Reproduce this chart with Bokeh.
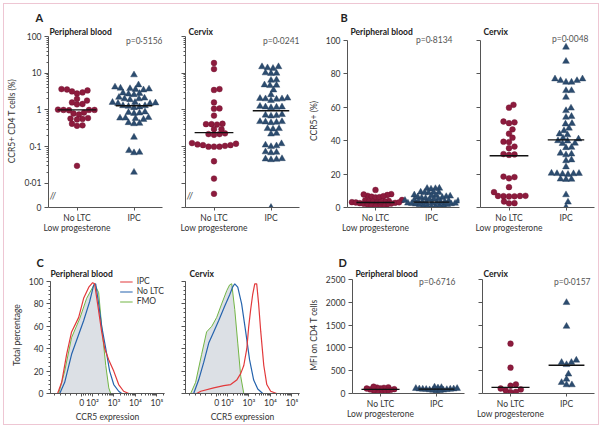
import numpy as np
from bokeh.plotting import figure
from bokeh.layouts import row, column
from bokeh.models import (FixedTicker, Label, Legend, LegendItem, Range1d, Title,
                          InlineStyleSheet)
from bokeh.embed import file_html
from bokeh.resources import INLINE

FONT = "Lato"
TXT = "#333333"
AXC = "#555555"
RED = "#8d1b3d"
BLUE = "#2c4c6f"
DARK = "#222222"
PGREY = "#555555"
FRAME_PINK = "#eec6d3"

GROUP_LABELS = ["No LTC\nLow progesterone", "IPC"]

# ---------------- Panel A (log scale, % CCR5+ CD4 T cells) ----------------
A_TICKS = [0.01, 0.1, 1, 10, 100]
A_TICK_LABELS = ["0·01", "0·1", "1", "10", "100"]
A_ZERO = 0.0022
A_PB_NOLTC = [3.7, 3.6, 3.4, 3.2, 3.0, 2.8, 2.0, 1.8, 1.6, 1.45, 1.42, 1.0, 1.0, 0.98,
              1.0, 1.02, 0.85, 0.8, 0.75, 0.6, 0.58, 0.57, 0.55, 0.42, 0.38, 0.37, 0.03]
A_PB_IPC = [9.0, 4.8, 4.2, 3.9, 3.7, 3.6, 3.5, 3.8, 2.8, 2.7, 2.6, 2.9, 2.1, 2.0, 1.9, 2.0,
            2.2, 1.6, 1.55, 1.5, 1.6, 1.5, 1.3, 1.25, 1.2, 1.15, 1.3, 0.85, 0.82, 0.8, 0.88,
            0.62, 0.6, 0.58, 0.6, 0.55, 0.45, 0.43, 0.42, 0.18, 0.068, 0.07, 0.078, 0.02]
A_CX_NOLTC = [19, 13, 3.7, 3.5, 1.6, 1.1, 1.08, 0.7, 0.42, 0.41, 0.41, 0.4, 0.3, 0.3, 0.23,
              0.22, 0.22, 0.21, 0.125, 0.12, 0.11, 0.105, 0.1, 0.1, 0.1, 0.11, 0.115, 0.04,
              0.0135, 0.0052]
A_CX_IPC = [14, 15, 15, 13.5, 10, 10.2, 9.8, 6.6, 6.4, 4.7, 4.6, 4.8, 3.5, 2.6, 2.0, 2.0, 2.1,
            1.95, 2.05, 1.8, 1.25, 1.2, 1.2, 1.18, 1.15, 0.72, 0.75, 0.7, 0.68, 0.48, 0.46,
            0.47, 0.45, 0.48, 0.31, 0.3, 0.31, 0.22, 0.23, 0.12, 0.105, 0.1, 0.11, 0.07, 0.068,
            0.072, 0.047, 0.045, 0.044, 0.046, 0]
A_PB_MEDIANS = [1.0, 1.3]
A_CX_MEDIANS = [0.24, 0.95]
A_P = ["p=0·5156", "p=0·0241"]

# ---------------- Panel B (% CCR5+) ----------------
B_TICKS = [0, 20, 40, 60, 80, 100]
B_PB_NOLTC = [10.5, 8.0, 7.5, 7.0, 6.5, 6.0, 6.2, 6.8, 7.8, 4.5, 4.3, 4.0, 3.8, 3.6, 3.4, 3.2,
              3.0, 2.9, 2.8, 2.6, 2.4, 2.2, 2.0, 1.8, 1.5, 1.2, 1.0, 0.6, 3.3, 3.1]
B_PB_IPC = [11.5, 11.4, 11.3, 11.0, 9.2, 9.0, 8.8, 9.1, 8.9, 7.5, 7.2, 7.0, 6.8, 6.5, 6.2, 6.0,
            5.8, 5.5, 5.2, 5.0, 4.8, 4.5, 4.2, 4.0, 3.8, 3.6, 3.4, 3.2, 3.0, 2.8, 2.6, 2.4,
            2.2, 2.0, 1.8, 1.6, 1.4, 1.2, 1.0, 0.8, 0.6, 0.4, 2.5, 3.1, 2.9]
B_CX_NOLTC = [61.5, 59.8, 51.5, 50.5, 51.0, 46.8, 44.2, 41.8, 39.4, 39.2, 36.5, 35.5, 32.0,
              31.8, 31.5, 18.5, 17.5, 18.2, 12.2, 6.9, 6.8, 6.6, 6.7, 6.9, 7.0, 9.2, 3.6, 2.6, 2.5]
B_CX_IPC = [96, 87.5, 77, 76, 75, 75, 76, 77, 70, 70, 66, 59.5, 58, 54, 54.5, 50, 50.3, 47.5, 46,
            44, 43.5, 41.5, 41, 40, 39.8, 38.5, 38.3, 36, 35.8, 32, 31.5, 32.5, 28, 28.5, 24.3,
            20.3, 20.5, 20, 19.8, 20.2, 20.4, 16.9, 16.8, 17, 7.6, 3.2, 0.2]
B_PB_MEDIANS = [3.0, 3.2]
B_CX_MEDIANS = [31, 40.5]
B_P = ["p=0·8134", "p=0·0048"]

# ---------------- Panel C (histograms, CCR5 expression) ----------------
C_X_TICKS = [0, 0.5, 1.5, 2.5, 3.5]
C_X_LABELS = ["0", "10²", "10³", "10⁴", "10⁵"]
C_Y_TICKS = [0, 20, 40, 60, 80, 100]
C_PB_FMO_X = [-1.45, -1.07, -0.79, -0.47, -0.09, 0.23, 0.6, 0.79, 0.93, 1.12, 1.26, 1.35, 3.85]
C_PB_FMO_Y = [0, 0, 20, 50, 67, 85, 98, 90, 60, 25, 5, 0, 0]
C_PB_IPC_X = [-1.45, -1.12, -0.93, -0.7, -0.47, -0.14, 0.09, 0.33, 0.51, 0.6, 0.74, 0.93, 1.07,
              1.26, 1.49, 1.72, 1.95, 2.19, 3.85]
C_PB_IPC_Y = [0, 0, 10, 35, 55, 68, 85, 95, 99, 98, 80, 55, 40, 30, 20, 8, 2, 0, 0]
C_PB_NOLTC_X = [-1.45, -1.02, -0.79, -0.47, -0.19, 0.09, 0.37, 0.56, 0.65, 0.79, 0.93, 1.12,
                1.3, 1.49, 1.72, 1.86, 3.85]
C_PB_NOLTC_Y = [0, 0, 10, 35, 50, 65, 82, 97, 98, 80, 60, 40, 20, 8, 2, 0, 0]
C_CX_FMO_X = [-1.45, -1.21, -0.98, -0.7, -0.47, -0.23, 0, 0.23, 0.47, 0.6, 0.7, 0.84, 0.98,
              1.12, 1.26, 3.85]
C_CX_FMO_Y = [0, 0, 10, 35, 55, 60, 68, 80, 92, 97, 98, 75, 45, 15, 0, 0]
C_CX_NOLTC_X = [-1.45, -1.07, -0.84, -0.6, -0.37, -0.14, 0.09, 0.37, 0.6, 0.74, 0.84, 0.98,
                1.16, 1.35, 1.53, 1.72, 1.91, 2.14, 3.85]
C_CX_NOLTC_Y = [0, 0, 12, 28, 45, 55, 65, 78, 88, 95, 98, 95, 80, 55, 30, 12, 4, 0, 0]
C_CX_IPC_X = [-1.45, -0.93, -0.74, -0.14, 0.33, 0.65, 0.93, 1.12, 1.26, 1.4, 1.49, 1.58, 1.67,
              1.77, 1.86, 1.95, 2.05, 2.19, 2.33, 2.51, 2.79, 3.85]
C_CX_IPC_Y = [0, 0, 2, 5, 7, 8, 12, 18, 25, 40, 60, 75, 88, 98, 98, 80, 55, 25, 8, 2, 0, 0]
C_LEGEND = ["IPC", "No LTC", "FMO"]
C_RED = "#e2393b"
C_BLUE = "#2563ad"
C_GREEN = "#72b545"
C_FILL = "#d8dde2"

# ---------------- Panel D (MFI on CD4 T cells) ----------------
D_TICKS = [0, 500, 1000, 1500, 2000, 2500]
D_PB_NOLTC = [135, 125, 110, 95, 80, 60, 35, 25, 45, 70, 90, 110, 130, 150]
D_PB_IPC = [100, 95, 110, 130, 90, 80, 120, 140, 75, 70, 95, 60, 85, 100, 110, 65]
D_CX_NOLTC = [1094, 567, 170, 90, 35, 30, 70, 110, 200]
D_CX_IPC = [1995, 1473, 680, 633, 680, 730, 425, 240, 190, 190, 313]
D_PB_MEDIANS = [90, 95]
D_CX_MEDIANS = [134, 620]
D_P = ["p=0·6716", "p=0·0157"]


def base_fig(w, h, xr, yr, bl, br, bt, bb, ytype="linear"):
    p = figure(width=w, height=h, x_range=Range1d(*xr), y_range=Range1d(*yr),
               y_axis_type=ytype, output_backend="svg", toolbar_location=None,
               min_border_left=bl, min_border_right=br, min_border_top=bt,
               min_border_bottom=bb)
    p.outline_line_color = None
    p.xgrid.visible = False
    p.ygrid.visible = False
    for ax in (p.xaxis[0], p.yaxis[0]):
        ax.axis_line_color = AXC
        ax.major_tick_line_color = AXC
        ax.minor_tick_line_color = AXC
        ax.major_tick_in = 0
        ax.major_tick_out = 4
        ax.minor_tick_in = 0
        ax.minor_tick_out = 2
        ax.major_label_text_font = FONT
        ax.major_label_text_font_size = "8.5px"
        ax.major_label_text_color = TXT
        ax.major_label_text_line_height = 1.0
        ax.axis_label_text_font = FONT
        ax.axis_label_text_font_size = "8.5px"
        ax.axis_label_text_font_style = "normal"
        ax.axis_label_text_color = TXT
        ax.major_label_standoff = 3
        ax.axis_label_standoff = 4
    return p


def titles(p, name, name_dx, letter=None, letter_dx=-13, letter_standoff=0):
    # outermost title: panel letter; inner title: sample name
    p.title.text = letter or ""
    p.title.align = "left"
    p.title.offset = letter_dx
    p.title.standoff = letter_standoff
    p.title.text_font = FONT
    p.title.text_font_size = "11px"
    p.title.text_font_style = "bold"
    p.title.text_color = DARK
    p.add_layout(Title(text=name, align="left", offset=name_dx, standoff=-4,
                       text_font=FONT, text_font_size="8.5px", text_font_style="bold",
                       text_color=DARK), "above")


def ptext(p, text, dx, dy):
    p.add_layout(Label(x=p.x_range.end, y=p.y_range.end, x_offset=dx, y_offset=-dy, text=text,
                       text_align="right", text_baseline="middle", text_font=FONT,
                       text_font_size="8.5px", text_color=PGREY))


def swarm(ypx, d, maxw):
    ypx = np.asarray(ypx, dtype=float)
    order = np.argsort(ypx)
    cands = [0.0]
    k = 1
    while k * 0.5 <= maxw:
        cands += [k * 0.5, -k * 0.5]
        k += 1
    placed = []
    offs = np.zeros(len(ypx))
    for i in order:
        y = ypx[i]
        near = [(px, py) for px, py in placed if abs(py - y) < d]
        best, bestd = None, -1
        for c in cands:
            md = min([np.hypot(c - px, y - py) for px, py in near], default=1e9)
            if md >= d:
                best = c
                break
            if md > bestd:
                bestd, best = md, c
        placed.append((best, y))
        offs[i] = best
    return offs


def cat_axis(p):
    p.xaxis.ticker = FixedTicker(ticks=[0, 1])
    p.xaxis.major_label_overrides = {0: GROUP_LABELS[0], 1: GROUP_LABELS[1]}
    p.xaxis.major_tick_out = 3
    p.xaxis.major_label_standoff = 2


def add_points(p, g0, g1, meds, to_px, d, maxw, pxu):
    y0 = [to_px(v) for v in g0]
    y1 = [to_px(v) for v in g1]
    x0 = swarm(y0, d, maxw) / pxu
    x1 = 1 + swarm(y1, d, maxw) / pxu
    p.scatter(x0, g0, marker="circle", size=5.8, fill_color=RED, line_color="#6e1230",
              line_width=0.4)
    p.scatter(x1, g1, marker="triangle", size=6.8, fill_color=BLUE, line_color="#233d5a",
              line_width=0.4)
    p.segment(x0=[-0.34, 1 - 0.32], x1=[0.34, 1 + 0.32], y0=meds, y1=meds,
              line_color="#111111", line_width=1.3)


PXU = 57.0
XR = (-0.5, 1.5)
ROW1_H, ROW2_H = 231, 189


# ---------- A ----------
def a_panel(w, bl, br, g0, g1, meds, pb):
    dec = 36.5          # pixels per decade
    ext = 2             # pixels of frame above the 100 tick
    top = 10 ** (2 + ext / dec)
    lo = np.log10(A_ZERO)
    def to_px(v):
        return (np.log10(max(v, A_ZERO)) - lo) * dec
    v0 = [max(v, A_ZERO) for v in g0]
    v1 = [max(v, A_ZERO) for v in g1]
    p = base_fig(w, ROW1_H, XR, (A_ZERO, top), bl, br, 30, 28, ytype="log")
    p.yaxis.bounds = (A_ZERO, 100)
    minors = [k * 10.0 ** e for e in range(-2, 2) for k in range(2, 10)]
    p.yaxis.ticker = FixedTicker(ticks=[A_ZERO] + A_TICKS, minor_ticks=minors)
    if pb:
        ov = {t: l for t, l in zip(A_TICKS, A_TICK_LABELS)}
        ov[A_ZERO] = "0"
        p.yaxis.axis_label = "CCR5+ CD4 T cells (%)"
    else:
        ov = {t: "" for t in [A_ZERO] + A_TICKS}
    p.yaxis.major_label_overrides = ov
    cat_axis(p)
    add_points(p, v0, v1, meds, to_px, 5.3, 28, PXU)
    p.add_layout(Label(x=-0.5, y=np.sqrt(0.01 * A_ZERO), text="//", text_align="left",
                       text_baseline="middle", text_font=FONT, text_font_size="10px",
                       text_color=AXC, x_offset=1))
    return p


a1 = a_panel(166, 44, 8, A_PB_NOLTC, A_PB_IPC, A_PB_MEDIANS, True)
titles(a1, "Peripheral blood", 1, "A", -13, 6)
ptext(a1, A_P[0], 0, 6)

a2 = a_panel(135, 15, 6, A_CX_NOLTC, A_CX_IPC, A_CX_MEDIANS, False)
titles(a2, "Cervix", 3, None, 0, 6)
ptext(a2, A_P[1], 0, 6)


# ---------- B ----------
def b_panel(w, bl, br, g0, g1, meds, pb, d, maxw):
    ppu = 1.66          # pixels per percent
    ext = 6
    p = base_fig(w, ROW1_H, XR, (0, 100 + ext / ppu), bl, br, 30, 28)
    p.yaxis.bounds = (0, 100)
    p.yaxis.ticker = FixedTicker(ticks=B_TICKS)
    if pb:
        p.yaxis.axis_label = "CCR5+ (%)"
    else:
        p.yaxis.major_label_overrides = {t: "" for t in B_TICKS}
    cat_axis(p)
    add_points(p, g0, g1, meds, lambda v: v * ppu, d, maxw, PXU)
    return p


b1 = b_panel(165, 40, 11, B_PB_NOLTC, B_PB_IPC, B_PB_MEDIANS, True, 4.0, 27)
titles(b1, "Peripheral blood", 3, "B", -7, 6)
ptext(b1, B_P[0], -7, 5)

b2 = b_panel(128, 10, 4, B_CX_NOLTC, B_CX_IPC, B_CX_MEDIANS, False, 5.3, 30)
titles(b2, "Cervix", 3, None, 0, 6)
ptext(b2, B_P[1], -6, 4.5)


# ---------- C ----------
def c_panel(w, bl, br, fx, fy, nx, ny, ix, iy, pb):
    p = base_fig(w, ROW2_H, (-1.45, 3.85), (0, 104.5), bl, br, 41, 31)
    p.yaxis.bounds = (0, 100)
    p.yaxis.ticker = FixedTicker(ticks=C_Y_TICKS, minor_ticks=list(range(0, 101, 4)))
    minors = [-1.25, -1.0, -0.75, -0.5, -0.25, 0.1, 0.2, 0.3, 0.4]
    minors += [0.5 + e + np.log10(k) for e in range(0, 4) for k in range(2, 10)]
    p.xaxis.ticker = FixedTicker(ticks=C_X_TICKS, minor_ticks=minors)
    p.xaxis.major_label_overrides = {t: l for t, l in zip(C_X_TICKS, C_X_LABELS)}
    p.xaxis.axis_label = "CCR5 expression"
    p.xaxis.major_tick_out = 3
    p.xaxis.axis_label_standoff = 1
    p.xaxis.major_label_standoff = 1
    if pb:
        p.yaxis.axis_label = "Total percentage"
    else:
        p.yaxis.major_label_overrides = {t: "" for t in C_Y_TICKS}
    p.varea(x=fx, y1=np.zeros(len(fx)), y2=fy, fill_color=C_FILL, fill_alpha=0.9)
    rg = p.line(fx, fy, line_color=C_GREEN, line_width=1)
    rb = p.line(nx, ny, line_color=C_BLUE, line_width=1.2)
    rr = p.line(ix, iy, line_color=C_RED, line_width=1.2)
    if pb:
        leg = Legend(items=[LegendItem(label=C_LEGEND[0], renderers=[rr]),
                            LegendItem(label=C_LEGEND[1], renderers=[rb]),
                            LegendItem(label=C_LEGEND[2], renderers=[rg])],
                     location="top_right", border_line_color=None, background_fill_alpha=0,
                     label_text_font=FONT, label_text_font_size="8.5px",
                     label_text_color=TXT, glyph_width=13, glyph_height=9, label_height=9,
                     spacing=0, padding=0, margin=0, label_standoff=4)
        p.add_layout(leg)
    return p


c1 = c_panel(166, 46, 6, C_PB_FMO_X, C_PB_FMO_Y, C_PB_NOLTC_X, C_PB_NOLTC_Y,
             C_PB_IPC_X, C_PB_IPC_Y, True)
titles(c1, "Peripheral blood", 0, "C", -14, 0)

c2 = c_panel(135, 15, 6, C_CX_FMO_X, C_CX_FMO_Y, C_CX_NOLTC_X, C_CX_NOLTC_Y,
             C_CX_IPC_X, C_CX_IPC_Y, False)
titles(c2, "Cervix", 4)


# ---------- D ----------
def d_panel(w, bl, br, g0, g1, meds, pb, d, maxw):
    ppu = 112 / 2500
    ext = 3
    p = base_fig(w, ROW2_H, XR, (0, 2500 + ext / ppu), bl, br, 41, 31)
    p.yaxis.bounds = (0, 2500)
    p.yaxis.ticker = FixedTicker(ticks=D_TICKS)
    if pb:
        p.yaxis.axis_label = "MFI on CD4 T cells"
    else:
        p.yaxis.major_label_overrides = {t: "" for t in D_TICKS}
    cat_axis(p)
    add_points(p, g0, g1, meds, lambda v: v * ppu, d, maxw, PXU)
    return p


d1 = d_panel(165, 45, 6, D_PB_NOLTC, D_PB_IPC, D_PB_MEDIANS, True, 3.4, 22)
titles(d1, "Peripheral blood", 3, "D", -14, 0)
ptext(d1, D_P[0], -9, 5)

d2 = d_panel(128, 12, 4, D_CX_NOLTC, D_CX_IPC, D_CX_MEDIANS, False, 5.3, 25)
titles(d2, "Cervix", 1)
ptext(d2, D_P[1], -4, 5)

frame_css = InlineStyleSheet(css=":host { border: 1px solid %s; margin: 3px 0 0 3px; }"
                             % FRAME_PINK)
layout = column(row(a1, a2, b1, b2), row(c1, c2, d1, d2), stylesheets=[frame_css])
open("out.html", "w").write(file_html(layout, INLINE))
